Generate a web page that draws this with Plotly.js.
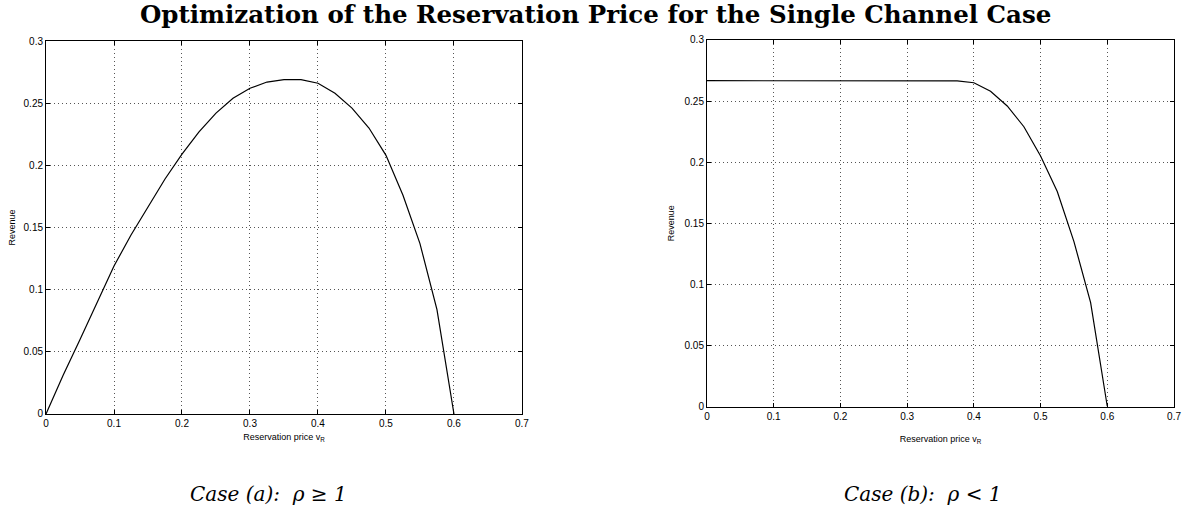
<!DOCTYPE html>
<html><head><meta charset="utf-8">
<script src="https://cdn.plot.ly/plotly-3.0.1.min.js"></script>
<style>body{margin:0;background:#fff}#c{width:1186px;height:514px}</style>
</head><body><div id="c"></div>
<script>
const priceA = [0,0.025,0.05,0.075,0.1,0.125,0.15,0.175,0.2,0.225,0.25,0.275,0.3,0.325,0.35,0.375,0.4,0.425,0.45,0.475,0.5,0.525,0.55,0.575,0.6];
const revenueA = [0,0.031,0.060,0.090,0.119,0.144,0.167,0.189,0.209,0.227,0.242,0.254,0.262,0.267,0.269,0.269,0.266,0.258,0.246,0.230,0.208,0.176,0.137,0.084,0];
const priceB = [0,0.025,0.05,0.075,0.1,0.125,0.15,0.175,0.2,0.225,0.25,0.275,0.3,0.325,0.35,0.375,0.4,0.425,0.45,0.475,0.5,0.525,0.55,0.575,0.6];
const revenueB = [0.2667,0.2667,0.2667,0.2667,0.2667,0.2667,0.2667,0.2667,0.2667,0.2667,0.2667,0.2667,0.2667,0.2667,0.2667,0.2665,0.265,0.258,0.246,0.229,0.205,0.176,0.135,0.085,0];
const xTicks = [0,0.1,0.2,0.3,0.4,0.5,0.6,0.7];
const yTicks = [0,0.05,0.1,0.15,0.2,0.25,0.3];
const titleText = "Optimization of the Reservation Price for the Single Channel Case";
const captionA = "Case (a):  ρ ≥ 1";
const captionB = "Case (b):  ρ < 1";
const xLabel = "Reservation price v<sub>R</sub>";
const yLabel = "Revenue";

const tickFont = {family: "Liberation Sans, Arial, sans-serif", size: 10, color: "#000"};
const labFont = {family: "Liberation Sans, Arial, sans-serif", size: 9, color: "#000"};
function ax(extra){
  return Object.assign({
    showline: true, linecolor: "#000", linewidth: 1, mirror: "ticks",
    ticks: "inside", ticklen: 4, tickcolor: "#000", tickwidth: 1,
    showgrid: true, gridcolor: "#555", griddash: "1px,3px", gridwidth: 1,
    zeroline: false, tickfont: tickFont, fixedrange: true
  }, extra);
}
const line = {color: "#000", width: 1.2};
const data = [
  {x: priceA, y: revenueA, mode: "lines", line: line, xaxis: "x", yaxis: "y", hoverinfo: "skip"},
  {x: priceB, y: revenueB, mode: "lines", line: line, xaxis: "x2", yaxis: "y2", hoverinfo: "skip"}
];
const capFont = {family: "DejaVu Serif, serif", size: 20, color: "#000"};
const layout = {
  width: 1186, height: 514, showlegend: false,
  paper_bgcolor: "#fff", plot_bgcolor: "#fff",
  margin: {l: 0, r: 0, t: 0, b: 0},
  xaxis: ax({domain: [0.0388, 0.4401], range: [0, 0.7], tickvals: xTicks, anchor: "y",
    title: {text: xLabel, font: labFont, standoff: 5}}),
  yaxis: ax({domain: [0.1946, 0.9202], range: [0, 0.3], tickvals: yTicks, anchor: "x",
    title: {text: yLabel, font: labFont, standoff: 6}}),
  xaxis2: ax({domain: [0.5961, 0.9899], range: [0, 0.7], tickvals: xTicks, anchor: "y2",
    title: {text: xLabel, font: labFont, standoff: 15}}),
  yaxis2: ax({domain: [0.2091, 0.9222], range: [0, 0.3], tickvals: yTicks, anchor: "x2",
    title: {text: yLabel, font: labFont, standoff: 8}}),
  annotations: [
    {text: "<b>" + titleText + "</b>", xref: "paper", yref: "paper", x: 595/1186, xanchor: "center", y: 1-14/514, yanchor: "middle",
     showarrow: false, font: {family: "DejaVu Serif, serif", size: 24.5, color: "#000"}},
    {text: "<i>" + captionA + "</i>", xref: "paper", yref: "paper", x: 268/1186, xanchor: "center", y: 1-494/514, yanchor: "middle",
     showarrow: false, font: capFont},
    {text: "<i>" + captionB + "</i>", xref: "paper", yref: "paper", x: 923/1186, xanchor: "center", y: 1-494/514, yanchor: "middle",
     showarrow: false, font: capFont}
  ]
};
Plotly.newPlot("c", data, layout, {staticPlot: true});
</script></body></html>
